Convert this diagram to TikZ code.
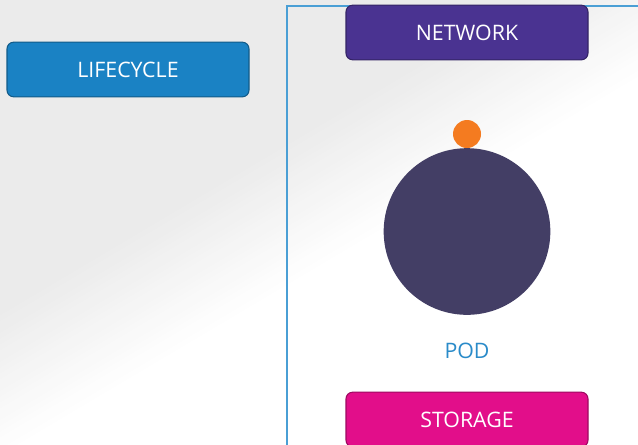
\documentclass[tikz,border=0pt]{standalone}
\usepackage{fontspec}
\setmainfont{Open Sans}
\definecolor{bggray}{HTML}{EBEBEB}
\begin{document}
\begin{tikzpicture}[x=0.75pt,y=-0.75pt,
  btn/.style={draw=#1!70!black, line width=0.8pt, fill=#1, rounded corners=5pt, minimum width=181.5pt, minimum height=41pt, text=white, font=\fontsize{16}{19}\selectfont, inner sep=0pt},
  lbl/.style={font=\fontsize{16}{19}\selectfont, text=podblue}]
\definecolor{lifeblue}{HTML}{1A82C4}
\definecolor{netpurple}{HTML}{4A3391}
\definecolor{storpink}{HTML}{E20E8A}
\definecolor{podcol}{HTML}{433E65}
\definecolor{orangec}{HTML}{F47B20}
\definecolor{podblue}{HTML}{2A8BC9}
\definecolor{framec}{HTML}{4A9FD5}
\useasboundingbox (0,0) rectangle (638,444);
\begin{scope}
\clip (0,0) rectangle (638,444);
\fill[bggray] (0,0) rectangle (638,444);
\foreach \i in {0,...,24} {
  \pgfmathtruncatemacro{\dd}{-90+\i*5}
  \pgfmathtruncatemacro{\pc}{96-\i*4}
  \fill[bggray!\pc!white]
    ({320+0.51*\dd-0.86*1000},{230+0.86*\dd+0.51*1000}) --
    ({320+0.51*\dd+0.86*1000},{230+0.86*\dd-0.51*1000}) --
    ({320+0.51*(\dd+1000)+0.86*1000},{230+0.86*(\dd+1000)-0.51*1000}) --
    ({320+0.51*(\dd+1000)-0.86*1000},{230+0.86*(\dd+1000)+0.51*1000}) -- cycle;
}
\end{scope}
\draw[framec, line width=0.8pt] (287,460) -- (287,6) -- (650,6);
\node[btn=lifeblue] (life) at (128,69.5) {LIFECYCLE};
\node[btn=netpurple] (net) at (467,32.5) {NETWORK};
\node[btn=storpink] (stor) at (467,419.5) {STORAGE};
\node[circle, fill=podcol, minimum size=125pt, inner sep=0pt] (pod) at (467,231.5) {};
\node[circle, fill=orangec, minimum size=21pt, inner sep=0pt] (dot) at (467,134) {};
\node[lbl] (podl) at (467,351) {POD};
\end{tikzpicture}
\end{document}
